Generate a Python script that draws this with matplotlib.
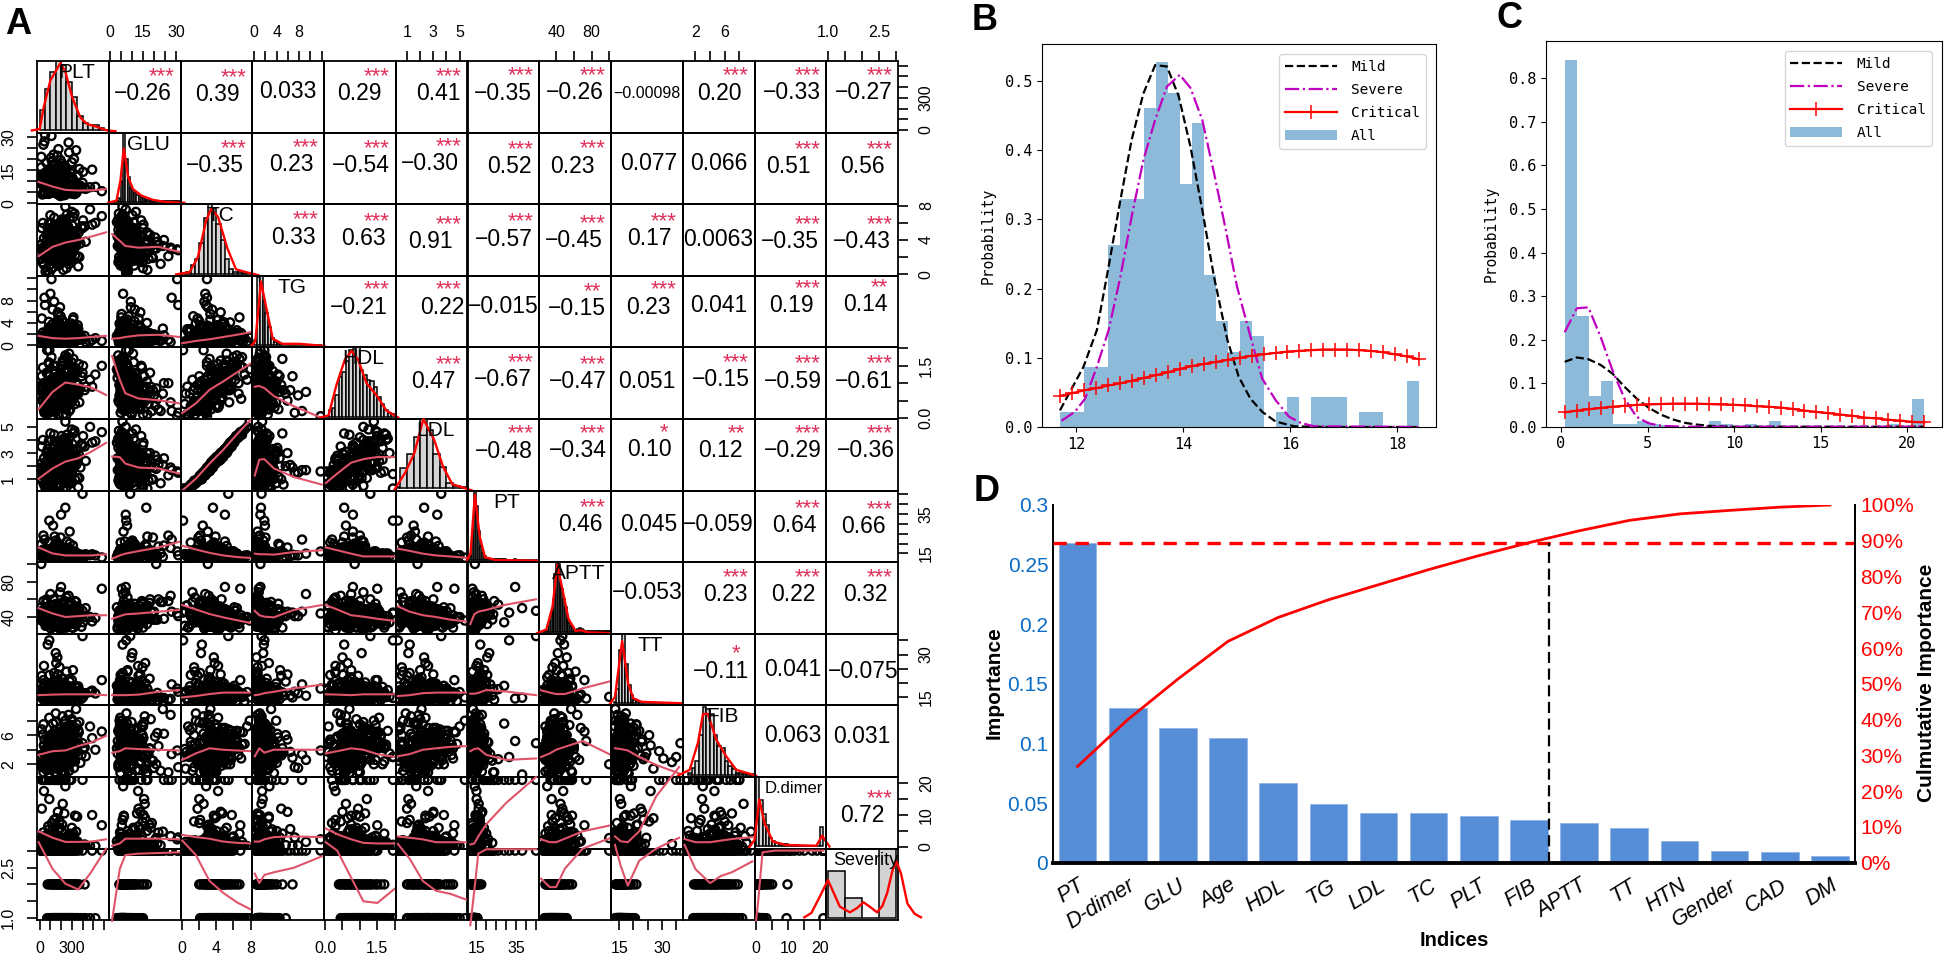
#%%
#Imports
import numpy as np
import matplotlib
matplotlib.use('Agg')
import matplotlib.pyplot as plt
from matplotlib.ticker import PercentFormatter

plt.rcParams['font.family'] = ['Liberation Sans', 'DejaVu Sans']

W, H = 1946, 959

# %%
#Panel A: patient table read off the blobs (mild 34, severe 14, critical 52)
plt_v = [182,245,310,128,205,390,265,150,220,340,175,298,120,255,430,190,235,160,365,280,210,145,320,470,195,250,135,300,225,520,170,275,350,240,
         160,280,210,350,130,240,190,420,300,110,260,175,330,225,
         60,140,95,210,30,175,250,85,120,310,45,190,155,70,280,105,20,230,130,360,90,165,50,200,115,300,75,145,35,260,185,100,400,65,220,125,15,170,80,340,150,55,240,110,580,195,40,135,270,90,490,160]
glu_v = [5.2,6.1,4.8,7.5,5.6,6.8,5.0,8.8,6.3,5.4,9.6,4.5,7.0,5.8,6.5,11.5,5.1,6.0,7.8,4.9,6.6,13.5,5.5,7.2,6.2,4.6,15.0,5.9,6.9,7.4,5.3,10.5,6.4,5.7,
         6.0,8.2,5.5,12.0,7.1,5.0,9.5,6.7,14.5,5.8,7.7,16.8,6.3,10.8,
         7.5,12.5,6.5,18.0,9.0,24.5,8.0,14.0,5.6,11.0,28.0,7.0,16.0,10.0,6.2,20.5,13.0,8.5,22.0,6.8,15.5,9.8,31.0,7.2,12.0,18.5,5.8,10.5,26.5,8.8,14.8,6.0,9.2,11.8,17.0,7.8,21.0,13.8,6.6,24.0,10.2,8.2,16.5,30.5,5.4,19.5,12.8,9.5,27.5,7.4,15.2,11.2]
tc_v = [4.2,5.1,3.6,4.8,3.2,5.6,4.5,3.9,6.2,4.0,5.3,3.4,4.7,7.0,3.8,4.4,5.8,3.1,4.9,6.6,4.1,3.5,5.0,7.6,4.3,3.7,5.4,2.9,4.6,6.0,3.3,5.2,4.0,7.9,
        3.5,4.4,2.8,5.1,3.9,4.7,3.0,5.6,3.3,4.2,2.6,4.9,3.7,6.1,
        2.4,3.6,1.9,3.1,2.7,4.0,1.5,3.3,2.2,4.6,2.9,1.2,3.8,2.5,3.0,4.3,1.8,2.6,3.4,0.9,2.0,3.7,2.8,5.0,1.6,3.2,2.3,4.1,2.1,3.5,1.4,2.7,5.4,3.9,0.5,2.4,3.0,4.5,1.7,3.3,2.2,0.3,3.6,2.9,6.8,1.9,4.2,2.6,3.1,0.1,5.8,2.0]
tg_v = [1.2,0.9,1.7,2.4,1.0,1.5,0.7,3.1,1.3,2.0,0.8,1.1,3.8,1.6,0.6,2.7,1.4,0.9,2.2,1.0,4.5,1.2,1.8,0.7,3.4,1.5,1.1,2.1,0.8,1.3,5.6,1.0,2.6,1.4,
        1.1,2.0,0.8,1.5,3.0,1.2,6.8,1.7,0.9,2.5,1.3,4.0,0.7,1.6,
        0.9,1.4,0.7,2.2,1.1,1.8,0.5,3.2,1.0,1.6,8.5,0.8,2.6,1.3,0.6,1.9,4.8,1.2,0.9,2.9,1.5,0.4,7.2,1.1,2.1,0.8,1.7,3.6,1.0,1.4,0.6,9.2,1.3,2.4,0.7,1.9,1.1,5.9,0.9,3.0,1.6,0.3,1.2,11.8,0.8,2.0,1.4,7.8,0.6,1.8,1.0,4.3]
hdl_v = [1.05,1.3,0.8,1.5,0.95,1.2,1.65,0.7,1.1,1.4,0.85,1.25,1.0,1.75,0.9,1.15,1.35,0.75,1.55,1.0,1.2,0.65,1.45,1.1,0.9,1.3,0.8,1.6,1.05,1.25,0.7,1.85,1.0,1.4,
         0.85,1.1,0.7,1.3,0.95,0.6,1.2,0.8,1.45,0.9,0.55,1.05,0.75,1.6,
         0.6,0.9,0.4,0.75,0.5,1.0,0.3,0.7,0.85,0.55,0.2,1.1,0.65,0.45,0.8,0.35,0.95,0.6,0.25,0.7,1.2,0.5,0.15,0.8,0.4,0.9,0.55,0.3,1.0,0.65,0.45,0.75,1.3,0.35,0.1,0.6,0.85,0.5,0.2,0.7,1.05,0.4,0.55,0.05,1.5,0.8,0.3,0.65,0.45,1.95,0.9,0.25]
ldl_v = [2.6,3.2,2.1,2.7,1.9,3.7,2.5,2.5,4.0,2.3,3.4,1.8,3.0,4.4,2.4,2.9,3.5,1.7,2.9,4.2,2.6,2.2,3.1,5.0,2.4,2.3,3.6,1.5,3.0,3.9,2.0,3.0,2.7,5.4,
         2.0,2.8,1.5,3.3,2.2,3.1,1.9,3.5,1.8,2.7,1.4,3.0,2.4,4.1,
         1.3,2.2,0.9,1.9,1.5,2.6,0.7,1.8,1.2,2.9,1.7,0.5,2.4,1.4,1.6,2.8,1.0,1.6,2.1,0.4,1.1,2.3,1.5,3.3,0.8,2.0,1.2,2.5,1.3,2.2,0.6,1.7,3.6,2.4,0.3,1.5,1.8,3.0,0.9,2.1,1.1,0.3,2.3,1.6,4.6,1.0,2.6,1.5,1.9,0.3,3.8,1.2]
pt_v = [13.2,13.8,14.1,13.5,12.8,14.4,13.9,13.1,14.0,13.6,12.6,14.2,13.7,13.3,14.6,13.0,13.4,14.3,12.9,13.8,14.8,13.5,12.7,14.1,13.2,13.9,14.5,13.6,12.5,14.0,13.3,13.7,15.0,12.9,
        13.6,14.2,13.0,14.8,13.9,12.7,14.4,13.4,15.2,13.7,12.9,14.1,16.0,13.3,
        14.0,15.5,13.5,16.8,14.6,19.0,13.2,15.0,17.5,14.2,22.0,13.8,15.8,14.4,26.0,13.6,16.2,14.8,18.5,13.4,15.2,20.5,14.1,34.5,15.6,13.9,17.0,14.5,24.0,13.1,16.5,14.9,45.0,15.3,13.7,29.0,14.3,18.0,15.9,13.3,21.5,14.7,38.0,16.0,13.0,23.0,15.1,14.0,17.8,31.5,14.6,19.8]
aptt_v = [36,40,33,44,38,29,42,35,47,31,39,43,34,37,50,30,41,36,45,32,38,48,35,40,28,43,37,33,46,39,41,34,52,36,
          38,43,34,48,37,30,45,40,55,35,42,32,58,39,
          41,48,36,56,43,38,62,44,33,50,46,68,39,42,54,37,47,28,60,44,35,52,41,74,45,38,49,25,58,43,36,66,47,40,53,34,100,46,39,57,42,30,50,44,72,37,48,41,64,45,35,55]
tt_v = [15.5,16.2,14.8,17.0,15.8,14.4,16.6,15.2,17.8,14.9,16.0,15.4,18.5,15.0,16.4,14.6,15.7,17.3,15.1,16.1,14.3,19.5,15.6,16.8,14.7,15.3,18.0,15.9,14.5,16.3,20.5,15.2,16.7,14.9,
        15.8,16.9,14.6,18.2,15.3,17.4,14.9,16.1,21.0,15.5,14.2,16.5,19.0,15.0,
        16.2,18.5,15.0,21.5,16.8,14.7,24.0,15.7,17.2,14.3,19.5,16.0,27.0,15.4,17.8,14.9,22.5,16.5,13.8,18.8,15.2,29.0,16.9,14.5,20.0,15.8,33.5,17.5,14.1,16.3,25.5,15.5,36.5,16.7,14.6,19.0,15.1,23.0,17.0,13.6,30.5,16.1,14.8,18.0,21.0,15.6,26.0,16.4,14.4,35.0,17.3,15.9]
fib_v = [3.8,5.2,2.9,4.4,6.1,3.3,4.9,2.5,5.6,3.6,4.1,6.8,2.7,4.7,3.1,5.4,3.9,2.2,6.4,4.3,3.4,5.0,2.6,7.2,3.7,4.6,3.0,5.8,2.3,4.0,6.0,3.5,4.8,8.0,
         3.4,4.8,2.6,5.7,3.9,6.5,2.9,4.3,7.4,3.2,5.1,2.2,4.6,6.0,
         3.6,5.0,2.4,4.2,1.8,6.2,3.0,4.7,2.1,5.5,3.4,7.0,1.4,4.0,2.7,5.8,3.2,1.0,4.5,6.7,2.9,3.8,1.6,5.2,3.5,8.2,2.3,4.4,0.9,3.1,6.0,2.6,4.9,1.2,3.7,7.6,2.0,5.4,3.3,9.6,2.8,4.1,0.6,3.9,6.5,2.5,4.6,1.5,8.8,3.0,5.6,3.7]
dd_v = [0.3,0.5,0.2,0.8,0.4,0.3,1.2,0.6,0.2,0.4,0.9,0.3,0.5,1.6,0.2,0.7,0.4,0.3,1.1,0.5,0.2,0.6,2.1,0.3,0.4,0.8,0.2,0.5,1.4,0.3,0.6,0.4,9.5,21,
        0.5,1.0,0.3,1.8,0.6,2.6,0.4,0.8,3.5,1.3,0.7,5.0,9.8,1.5,
        1.5,4.0,0.8,7.0,2.5,21,1.0,5.5,0.6,3.2,21,1.8,9.0,0.5,21,2.2,12.0,1.2,4.5,0.7,15.0,21,3.0,21,1.4,6.0,0.9,2.0,21,0.4,8.0,1.6,21,3.6,0.6,21,2.8,11.0,1.1,4.8,21,0.8,21,2.4,6.8,1.3,17.5,0.5,3.4,21,10.0,1.9]
sev_v = [1]*34 + [2]*14 + [3]*52

#Second batch that fills the dense core of each blob (mild 38, severe 14, critical 58)
plt_core = [85,130,165,200,240,275,310,345,100,145,185,225,260,300,335,70,115,155,195,235,270,305,355,90,135,175,215,250,290,325,380,110,150,190,230,265,295,405,
            75,120,160,205,245,285,330,95,140,180,220,255,315,370,
            10,40,70,100,130,160,190,220,250,280,25,55,85,115,145,175,205,235,265,295,15,45,75,105,135,165,195,225,255,285,35,65,95,125,155,185,215,245,275,310,20,50,80,110,140,170,200,230,260,320,30,60,90,120,150,180,210,240]
glu_core = [4.2,7.1,5.5,9.0,3.8,6.4,8.2,4.9,10.2,5.7,3.5,7.7,6.0,11.8,4.4,8.6,5.1,6.9,3.2,9.5,5.3,7.4,12.6,4.7,6.2,8.9,3.9,5.8,10.8,4.1,7.9,6.6,9.8,5.0,3.6,8.4,6.8,14.2,
            5.6,9.2,4.3,7.3,11.2,5.9,8.0,13.2,4.6,6.5,10.0,7.6,5.2,15.5,
            8.8,5.5,13.2,7.0,17.5,4.8,10.6,6.2,15.0,9.0,3.9,12.0,7.6,19.0,5.1,11.0,8.2,14.5,6.5,4.4,16.2,9.6,7.3,12.6,5.8,21.5,8.5,10.0,6.8,13.8,4.6,18.2,9.3,7.9,11.5,5.3,15.8,6.1,23.0,8.0,10.9,4.2,13.0,7.1,17.0,9.9,5.7,12.3,6.4,20.0,8.4,14.2,4.9,11.3,7.5,16.6,9.1,6.0]
tc_core = [5.9,2.7,4.6,3.5,6.4,2.3,5.0,3.9,6.9,2.9,4.4,5.6,3.2,7.3,4.0,2.5,5.3,3.7,6.1,4.8,3.0,5.7,2.1,4.2,6.6,3.4,5.2,2.8,4.7,7.1,3.6,6.0,2.6,4.9,3.3,5.5,4.1,6.3,
           5.4,2.5,4.1,6.4,3.1,5.0,2.2,3.8,5.8,2.9,4.6,3.4,6.7,2.0,
           3.4,1.1,2.6,4.4,1.8,3.0,5.2,2.2,0.7,3.7,1.4,2.8,4.8,2.0,3.2,1.0,4.0,2.4,5.6,1.6,3.5,2.9,0.4,4.2,2.1,3.8,1.3,2.7,5.0,1.7,3.1,4.6,2.3,0.8,3.6,1.9,2.5,4.3,1.2,3.3,5.4,2.0,2.9,0.6,3.9,1.5,2.6,4.7,1.8,3.0,6.0,2.2,1.0,3.5,1.6,2.4,4.1,2.8]
tg_core = [0.7,1.5,2.8,1.0,1.9,0.5,3.3,1.2,2.2,0.9,1.6,4.1,0.6,1.3,2.5,1.1,3.0,0.8,1.7,2.0,0.4,1.4,3.6,1.0,2.3,0.7,1.8,2.9,1.2,0.6,1.5,2.1,0.9,3.9,1.3,0.5,2.6,1.1,
           0.6,1.8,1.0,2.7,0.4,1.4,3.4,0.9,2.2,1.2,0.5,1.9,5.0,1.0,
           1.2,0.4,2.0,0.8,1.5,3.5,0.6,1.0,2.4,0.3,1.7,0.9,4.2,1.3,0.5,2.8,1.1,0.7,1.9,3.9,0.4,1.4,0.8,2.2,0.6,1.6,5.2,1.0,0.3,2.6,1.2,0.7,3.1,0.9,1.8,0.5,1.3,2.1,0.8,4.6,1.1,0.4,1.5,2.9,0.7,1.0,3.4,0.6,1.7,0.9,2.3,1.3,0.5,6.4,1.0,1.9,0.8,2.7]
hdl_core = [1.6,0.6,1.2,0.9,1.8,0.75,1.35,1.0,0.55,1.5,1.15,0.85,1.7,1.25,0.65,1.95,1.05,0.8,1.4,1.1,0.5,1.3,0.95,1.55,0.7,1.2,1.65,0.6,1.0,1.45,0.85,1.75,1.1,0.9,1.35,0.45,1.25,1.5,
            1.25,0.5,0.95,1.5,0.65,1.15,0.4,0.85,1.35,0.6,1.0,0.75,1.7,0.45,
            0.8,0.25,0.55,1.0,0.4,0.7,1.15,0.3,0.1,0.85,0.5,0.65,1.25,0.2,0.75,0.35,0.95,0.6,1.4,0.45,0.9,0.15,0.7,1.05,0.3,0.55,0.8,0.4,1.1,0.25,0.65,1.3,0.5,0.05,0.85,0.35,0.6,1.0,0.2,0.75,1.2,0.45,0.3,0.9,0.55,0.1,0.7,1.15,0.4,0.65,1.45,0.5,0.15,0.8,0.35,0.6,0.95,0.25]
ldl_core = [3.9,1.3,2.8,2.3,4.1,1.0,3.3,2.2,4.5,1.9,2.6,3.4,1.6,4.8,2.6,1.4,3.1,2.5,3.8,3.1,1.6,3.7,1.1,2.4,4.4,2.2,3.4,1.4,2.7,4.7,1.9,4.0,1.6,3.2,1.7,3.5,2.7,4.3,
            3.3,1.3,2.6,4.3,1.7,3.2,1.0,2.5,3.9,1.5,2.8,2.3,4.5,1.1,
            1.9,0.6,1.4,2.9,0.9,1.8,3.4,1.3,0.4,2.1,0.9,1.5,3.1,1.0,2.1,0.5,2.4,1.4,3.8,0.7,2.2,1.6,0.3,2.7,1.2,2.5,0.6,1.6,3.2,0.8,1.7,3.0,1.4,0.4,2.4,1.0,1.3,2.8,0.7,2.0,3.5,1.1,1.8,0.3,2.6,0.7,1.5,3.0,1.0,1.9,4.0,1.2,0.6,2.1,0.9,1.4,2.5,1.7]
pt_core = [13.0,14.3,12.4,13.7,15.0,12.9,14.6,13.4,12.2,14.1,13.6,15.3,12.7,13.9,14.4,13.2,12.5,14.8,13.5,15.6,12.8,14.0,13.3,14.7,12.3,13.8,15.1,13.1,14.2,12.6,13.6,14.9,12.1,14.5,13.0,15.4,13.7,14.0,
           14.5,13.2,15.4,12.6,14.0,16.5,13.5,15.0,12.3,14.7,13.8,17.5,13.0,14.3,
           13.8,15.2,12.9,17.2,14.4,13.1,18.8,15.6,14.0,20.0,13.4,16.4,14.8,12.7,15.9,13.6,17.8,14.2,16.0,13.0,19.5,15.0,14.6,12.5,16.8,13.7,15.4,14.1,21.0,13.3,17.0,14.9,15.7,12.8,18.2,14.3,16.2,13.5,15.1,19.0,14.7,13.2,16.6,14.0,23.5,15.5,13.9,17.5,14.5,12.6,16.1,15.3,20.5,13.6,14.8,18.5,15.8,14.2]
aptt_core = [32,38,45,29,41,35,49,33,42,37,27,46,31,40,36,44,30,39,51,34,43,28,38,47,33,41,35,30,45,37,42,32,48,36,29,40,44,34,
             33,41,36,50,29,44,38,53,31,46,35,42,28,48,
             37,44,31,52,40,35,47,42,28,55,38,33,49,45,30,41,36,58,43,34,51,39,46,27,54,37,42,32,48,40,35,60,44,29,50,38,45,33,57,41,36,47,31,53,43,39,27,49,35,46,40,56,32,44,38,51,42,30]
tt_core = [14.0,15.0,16.5,13.8,17.5,15.6,14.5,16.9,15.1,18.2,14.2,16.0,15.5,13.6,17.2,14.7,16.3,15.3,19.0,14.9,15.9,17.7,14.1,16.6,15.2,13.9,18.6,15.7,14.4,16.2,17.0,15.4,14.6,19.8,15.8,14.3,16.8,15.0,
           14.8,17.0,15.4,13.7,16.3,18.8,15.0,14.3,17.6,15.9,20.0,14.5,16.7,15.2,
           15.3,17.2,14.0,19.2,16.0,14.6,18.0,15.6,13.5,20.5,16.7,15.0,17.6,14.2,22.0,15.9,14.8,18.6,16.3,13.7,19.8,15.2,17.0,14.4,23.5,16.5,15.5,18.3,14.9,13.9,21.0,16.1,15.1,17.4,14.1,19.5,15.7,16.9,14.7,24.5,15.4,18.9,16.4,14.3,17.9,15.8,13.8,20.2,16.6,15.0,18.1,14.5,22.8,15.6,17.3,14.0,16.2,19.1]
fib_core = [4.5,2.1,5.9,3.2,6.6,1.9,4.0,7.5,2.8,5.3,3.5,6.2,2.4,4.8,7.0,3.0,5.6,1.7,4.2,6.9,3.7,2.6,5.0,8.4,3.3,4.6,2.0,5.8,3.9,6.4,2.2,4.4,7.8,3.1,5.2,2.7,6.0,4.1,
            4.0,6.2,2.0,5.3,3.0,7.0,2.4,4.7,6.6,3.6,1.8,5.6,4.2,7.8,
            2.8,4.6,1.2,6.0,3.4,0.8,5.2,2.2,7.2,4.0,1.6,3.1,5.7,2.5,6.6,3.8,1.0,4.9,2.0,8.0,3.3,5.4,1.4,4.3,2.7,6.3,3.6,0.7,5.0,2.3,7.5,4.1,1.8,3.0,5.9,2.6,8.6,4.5,1.1,3.5,6.8,2.1,5.5,3.2,0.9,4.8,2.9,7.0,3.9,1.5,6.1,2.4,5.1,3.7,9.0,1.9,4.4,3.0]
dd_core = [0.1,0.4,0.2,0.6,0.3,1.0,0.1,0.5,0.2,0.8,0.3,0.1,1.3,0.4,0.2,0.7,0.1,0.5,1.8,0.3,0.2,0.9,0.4,0.1,0.6,2.4,0.2,0.3,1.1,0.5,0.1,0.7,0.2,3.2,0.4,0.3,1.5,0.2,
           0.3,0.7,0.2,1.2,0.5,2.0,0.1,0.9,3.0,0.4,1.5,0.6,4.2,0.8,
           0.8,2.0,0.3,3.5,1.2,0.5,6.0,1.8,0.2,4.2,1.0,2.6,0.6,7.5,1.4,0.3,5.0,2.2,0.9,21,0.4,3.0,1.6,0.7,8.5,1.1,21,0.3,2.4,0.6,4.6,1.3,21,0.2,3.8,0.9,13.5,1.7,0.5,2.9,21,1.0,6.5,0.4,21,2.1,0.8,10.5,1.5,0.3,3.3,21,0.7,5.6,1.2,21,0.5,19.0]
sev_core = [1]*38 + [2]*14 + [3]*58

names = ['PLT', 'GLU', 'TC', 'TG', 'HDL', 'LDL', 'PT', 'APTT', 'TT', 'FIB', 'D.dimer', 'Severity']
table = [plt_v+plt_core, glu_v+glu_core, tc_v+tc_core, tg_v+tg_core, hdl_v+hdl_core, ldl_v+ldl_core,
         pt_v+pt_core, aptt_v+aptt_core, tt_v+tt_core, fib_v+fib_core, dd_v+dd_core, sev_v+sev_core]
limits = [(-25,645), (-0.5,32), (-0.2,8.2), (-0.35,12.4), (-0.03,2.03), (0.14,5.6),
          (10.6,46.6), (21,102), (12.1,37.3), (0.25,10.1), (-0.5,21.9), (0.94,3.06)]
ticks = [[0,100,200,300,400,500,600], [0,5,10,15,20,25,30], [0,2,4,6,8], [0,2,4,6,8,10,12], [0,0.5,1,1.5,2], [1,2,3,4,5],
         [15,20,25,30,35,40,45], [40,60,80,100], [15,20,25,30,35], [2,4,6,8], [0,5,10,15,20], [1,1.5,2,2.5,3]]
tick_text = [['0','','','300','','',''], ['0','','','15','','','30'], ['0','','4','','8'], ['0','','4','','8','',''], ['0.0','','','1.5',''], ['1','','3','','5'],
             ['15','','','','35','',''], ['40','','80',''], ['15','','','30',''], ['2','','6',''], ['0','','10','','20'], ['1.0','','','2.5','']]

#Smoother x positions for each column variable
knots = [[-10,120,240,360,480,620], [1,4.5,7,13,22,31.5], [0,1.6,3.2,4.8,6.4,8.1], [0.1,0.9,1.8,3.5,7,12],
         [0.02,0.35,0.75,1.1,1.5,2.0], [0.3,1.2,2.2,3.2,4.3,5.5], [12,14,16,20,30,45], [23,33,40,50,70,100],
         [13.5,15.5,18,22,28,36], [0.5,2,4,5.5,7,9.8], [0,0.5,2,6,13,21]]

#Smoother y readings, one list per row, one entry per column left of the diagonal
smooth_glu = [[9.6,7.5,6,5.7,5.8,6.3]]
smooth_tc = [[2.1,3.2,3.7,4.0,4.4,4.9], [4.7,3.9,3.3,3.1,3.2,2.6]]
smooth_tg = [[1.7,1.3,1.2,1.3,1.5,1.7], [1.2,1.3,1.5,1.8,1.9,1.5], [0.4,0.8,1.1,1.5,1.9,2.4]]
smooth_hdl = [[0.25,0.75,1.02,0.96,0.88,0.66], [1.78,1.1,0.71,0.56,0.51,0.42], [0.14,0.42,0.81,1.05,1.31,1.58], [0.9,0.92,0.86,0.63,0.34,0.0]]
smooth_ldl = [[1.05,1.83,2.35,2.6,3.1,3.78], [2.74,2.69,2.2,1.9,1.83,1.44], [0.14,1.05,2.2,3.25,4.43,5.6],
              [1.3,2.5,2.54,1.83,1.18,0.6], [0.71,1.44,2.27,2.54,2.7,2.7]]
smooth_pt = [[18,15,14,14,14,14.6], [12.4,14,14.9,16.2,18,20.9], [18.9,17,15.3,14,13.2,12.7],
             [14.9,14.6,14.6,14.4,15.7,16.6], [18,16.6,14.9,13.5,13.5,13.5], [17.4,16.3,14.9,14,13.5,12.8]]
smooth_aptt = [[50,44,40,41,42,42], [38,41,43,44,46,48], [53.5,48.5,43.4,39.6,36.4,33], [47,42,40.4,39.6,48,53.5],
               [53.5,48.5,42,40.4,38,35.6], [52,46,42,40,37,35], [32,43,46,48,54,60]]
smooth_tt = [[15.7,15.9,16,16,16,15.7], [15.7,15.7,15.7,15.9,16.9,17.5], [14.9,15.4,16.1,16.6,16.6,16.6], [15.7,15.9,16.4,16.9,18.1,19.4],
             [16,15.9,15.7,16,16,16], [15.4,15.7,16.4,16.6,16.6,16.6], [16.2,16.2,16.5,17.5,17,15.7], [17.4,16.6,16.1,16.1,18.1,20.5]]
smooth_fib = [[3.3,3.8,3.9,4.5,5,5.9], [3.6,3.8,4.2,4.1,4,3.9], [2.6,3.5,4.2,4,3.9,3.8], [3.1,4.2,3.6,4,4,4], [3.5,3.8,4.2,4,3.4,3],
              [3.1,3.4,4,4.2,4.4,4.5], [3.8,4.1,4.2,3.3,2.6,2.8], [3,3.5,4,4.4,5.2,3.4], [4.2,4.1,3.9,3,1.9,0.75]]
smooth_dd = [[4.9,2.9,1.6,1.6,1.7,2.4], [0.4,1.1,2.6,2.6,2.6,2.4], [3.8,3.1,2.6,1.7,1.3,1.1], [1.7,1.7,2.4,3.1,3.3,3.1], [5.8,4,2.4,1.3,1.1,1.1],
             [3.3,2.9,2.4,1.5,1.5,1.5], [0.8,1.1,3.3,7.1,13.8,21.9], [2.4,1.5,1.5,2.6,4.9,6.7], [3.3,1.8,1.5,4.9,15.9,25], [2.5,1.5,1.5,2,2.5,3.1]]
smooth_sev = [[3.25,2.46,2.02,1.85,2.36,3.06], [0.92,2.46,2.87,2.91,2.93,2.95], [3.3,2.87,2.1,1.75,1.47,1.25], [2.32,2.04,2.28,2.36,2.49,2.83],
              [3.25,3.0,2.2,1.5,1.45,1.87], [3.2,2.76,2.1,1.81,1.72,1.55], [0.79,1.81,2.91,3.04,3.04,3.04], [2.17,1.92,1.92,2.47,3.06,3.36],
              [3.17,2.55,1.96,2.7,3.06,3.38], [3.17,2.45,2.04,2.25,2.36,2.68], [0.94,1.34,2.95,3.0,3.0,3.0]]
smooth_rows = [[], smooth_glu, smooth_tc, smooth_tg, smooth_hdl, smooth_ldl, smooth_pt, smooth_aptt, smooth_tt, smooth_fib, smooth_dd, smooth_sev]

#Diagonal histograms: first edge, bin width, bar heights as share of the cell
hist_start = [0, 0, 0, 0, 0, 0, 11, 22, 13, 1, 0, 1]
hist_step = [50, 1, 0.5, 0.5, 0.1, 0.5, 1, 2, 1, 0.5, 1, 0.5]
hist_plt = [.28,.58,.82,.98,.92,.67,.47,.2,.1,.08,.08,.03,.01]
hist_glu = [0,0,0,.01,.05,.3,.97,.6,.35,.2,.17,.13,.1,.08,.07,.05,.03,.03,.03,.02,.02,.01,.01,.01,.01,.01,.01,.01,.01,.01,.01,.01]
hist_tc = [.01,.02,.12,.2,.43,.78,1.0,.92,.7,.47,.2,.06,.03,.02,.01,.005]
hist_tg = [.08,.95,1,.62,.45,.25,.1,.05,.03,.02,.01,.01,.01,.02,.01,.01,.02,.01,.005,.005,.005,.005,.005,.01]
hist_hdl = [.01,.1,.12,.3,.55,.62,.78,.93,.95,1,.66,.58,.52,.5,.42,.28,.18,.1,.06,.04]
hist_ldl = [.02,.28,.48,.72,1,.82,.48,.3,.08,.04,.02]
hist_pt = [0,.05,.4,1,.75,.4,.2,.1,.05,.03,.02,.02,.01,.02,.01,.01,.01,.01,.01,.005,.005,.005,.005,.01,.005,.005,.005,.005,.005,.005,.005,.005,.005,.005,.005]
hist_aptt = [0,0,.01,.03,.08,.15,.28,.45,.8,1,.95,.7,.6,.45,.35,.22,.12,.08,.05,.03,.02,.04,.05,.04,.02,.01,.005,.005,.005,.005,.005,.005,.005,.005,.005,.005,.005,.005,.005,.01]
hist_tt = [.02,.2,.75,1.0,.55,.25,.12,.05,.03,.02,.01,.01,.01,.005,.01,.005,.005,.01,.005,.005,.01,.005,.005,.01]
hist_fib = [.02,.1,.2,.55,.95,.92,.85,.55,.4,.38,.2,.12,.08,.03,.02,.02,.01,.01]
hist_dd = [1.0,.65,.45,.3,.12,.07,.05,.04,.03,.03,.02,.02,.02,.01,.01,.01,.01,.01,.01,.01,.27]
hist_sev = [.66,.28,0,.98]
hist_rows = [hist_plt, hist_glu, hist_tc, hist_tg, hist_hdl, hist_ldl, hist_pt, hist_aptt, hist_tt, hist_fib, hist_dd, hist_sev]

#Diagonal density curves
dens_x = [[-73,0,37,100,193,240,302,380,442,535,629,707],
          [-0.75,3,4.8,6.3,8.3,10.5,14.3,19.5,25.5,33.8],
          [-0.7,0.86,1.83,2.8,3.4,4.2,5.3,6.3,7.5,8.9],
          [-0.6,0.2,1.2,2.1,3.3,5,8,12.5],
          [-0.14,0.1,0.33,0.57,0.76,0.95,1.19,1.48,1.76,2.1],
          [0.03,0.86,1.55,2.24,3.06,3.75,4.44,5.96],
          [10.3,12.1,14.3,16.7,19.4,24.8,46],
          [18.8,29,36,41.4,48,54,62,68.5,76,101],
          [11.7,13.5,16,18.1,19.9,22.8,36.8],
          [-0.4,1.2,2.34,3.03,3.7,4.86,6.2,7.6,10.3],
          [-2.1,-0.5,1,2.6,5.2,9.4,18.8,20.6,22.9],
          [0.29,0.5,0.75,0.99,1.2,1.34,1.64,1.85,2.04,2.25,2.44,2.6,2.74,2.9,3.01,3.15,3.34,3.55,3.74]]
dens_y = [[.03,.05,.35,.73,.97,.85,.5,.21,.12,.08,.03,.02],
          [.02,.05,.33,.78,.38,.21,.12,.06,.03,.02],
          [.02,.05,.26,.77,.94,.82,.38,.09,.05,.01],
          [.01,.09,.92,.57,.12,.05,.05,.02],
          [.02,.05,.48,.83,.95,.83,.5,.33,.12,.02],
          [.01,.25,.52,1,.71,.33,.09,.0],
          [.03,.12,.94,.36,.07,.03,.02],
          [.01,.06,.38,.96,.57,.21,.04,.05,.02,.01],
          [.02,.12,.9,.31,.1,.05,.03],
          [.02,.1,.48,.88,.88,.52,.29,.1,.02],
          [.02,.12,.69,.36,.1,.05,.04,.18,.03],
          [.04,.1,.33,.56,.34,.19,.11,.17,.25,.18,.11,.2,.38,.7,.82,.65,.23,.09,.04]]

#Upper triangle: correlation text, stars and where each one sits in its cell
r_text = [['−0.26','0.39','0.033','0.29','0.41','−0.35','−0.26','−0.00098','0.20','−0.33','−0.27'],
          ['−0.35','0.23','−0.54','−0.30','0.52','0.23','0.077','0.066','0.51','0.56'],
          ['0.33','0.63','0.91','−0.57','−0.45','0.17','0.0063','−0.35','−0.43'],
          ['−0.21','0.22','−0.015','−0.15','0.23','0.041','0.19','0.14'],
          ['0.47','−0.67','−0.47','0.051','−0.15','−0.59','−0.61'],
          ['−0.48','−0.34','0.10','0.12','−0.29','−0.36'],
          ['0.46','0.045','−0.059','0.64','0.66'],
          ['−0.053','0.23','0.22','0.32'],
          ['−0.11','0.041','−0.075'],
          ['0.063','0.031'],
          ['0.72']]
r_stars = [['***','***','','***','***','***','***','','***','***','***'],
           ['***','***','***','***','***','***','','','***','***'],
           ['***','***','***','***','***','***','','***','***'],
           ['***','***','','**','***','','***','**'],
           ['***','***','***','','***','***','***'],
           ['***','***','*','**','***','***'],
           ['***','','','***','***'],
           ['','***','***','***'],
           ['*','',''],
           ['',''],
           ['***']]
r_x = [[.47,.51,.5,.49,.59,.49,.49,.5,.51,.52,.52],
       [.48,.54,.52,.47,.58,.46,.52,.5,.47,.5],
       [.57,.55,.48,.5,.48,.53,.5,.5,.49],
       [.49,.65,.5,.53,.52,.5,.52,.55],
       [.53,.49,.53,.5,.53,.53,.52],
       [.51,.54,.54,.52,.54,.55],
       [.57,.53,.49,.55,.52],
       [.5,.6,.54,.55],
       [.54,.53,.51],
       [.53,.5],
       [.5]]
r_y = [[.54,.53,.58,.54,.54,.55,.56,.55,.55,.56,.56],
       [.54,.55,.54,.565,.52,.53,.57,.57,.52,.52],
       [.54,.52,.48,.51,.49,.52,.5,.48,.48],
       [.56,.56,.57,.54,.56,.58,.58,.6],
       [.52,.55,.52,.52,.55,.53,.53],
       [.55,.56,.57,.56,.56,.56],
       [.52,.52,.52,.51,.5],
       [.57,.55,.55,.55],
       [.48,.5,.47],
       [.58,.56],
       [.46]]

# %%
#Panel B values
b_edges_start, b_edges_stop = 11.71, 18.41
b_hist = [.021,.021,.087,.087,.263,.329,.329,.461,.527,.482,.351,.439,.22,.153,.109,.153,.131,0,.021,.044,0,.044,.044,.044,0,.021,.021,0,0,.066]
b_mild_x = [11.7,12.14,12.39,12.61,12.83,13.04,13.26,13.48,13.7,13.92,14.14,14.36,14.58,14.83,15.04,15.26,15.48,15.73,16.08,16.7,18.42]
b_mild_y = [.024,.087,.14,.232,.328,.415,.482,.523,.521,.478,.405,.314,.217,.126,.073,.041,.022,.008,.001,0,0]
b_severe_x = [11.73,11.98,12.17,12.39,12.61,12.83,13.04,13.26,13.48,13.7,13.94,14.14,14.36,14.58,14.8,15.01,15.26,15.48,15.73,15.98,16.2,16.45,18.42]
b_severe_y = [.009,.022,.041,.087,.14,.217,.304,.386,.444,.492,.509,.49,.444,.367,.285,.203,.131,.07,.039,.015,.006,.001,0]
b_critical_y = [.045,.049,.053,.056,.060,.063,.067,.071,.075,.079,.084,.088,.091,.094,.097,.100,.103,.105,.107,.109,.110,.111,.112,.112,.112,.111,.110,.108,.105,.102,.098]

#Panel C values
c_edges_start, c_edges_stop = 0.21, 21.0
c_hist = [.842,.254,.07,.106,.007,.007,.014,.007,.0035,0,0,0,.014,.007,0,.007,0,.014,0,0,0,0,0,0,0,0,0,.007,0,.064]
c_mild_x = [.21,.91,1.58,2.28,2.97,3.66,4.36,5.05,5.75,6.44,7.14,7.83,8.52,9.9,20.98]
c_mild_y = [.149,.159,.155,.142,.122,.092,.065,.044,.028,.017,.009,.005,.002,0,0]
c_severe_x = [.21,.91,1.58,2.28,2.97,3.66,4.36,5.05,5.75,7.14,20.98]
c_severe_y = [.217,.272,.274,.207,.13,.065,.023,.008,.002,0,0]
c_critical_y = [.033,.037,.04,.043,.046,.048,.05,.051,.052,.053,.053,.053,.052,.051,.0505,.049,.047,.046,.044,.041,.037,.034,.031,.028,.025,.021,.019,.016,.014,.011,.01]

#Panel D values
indices = ['PT','D-dimer','GLU','Age','HDL','TG','LDL','TC','PLT','FIB','APTT','TT','HTN','Gender','CAD','DM']
importance = [.268,.130,.113,.105,.0665,.049,.042,.042,.039,.036,.033,.029,.018,.0098,.009,.006]

# %%
#Helpers working in reference pixels
fig = plt.figure(figsize=(W/100, H/100), dpi=100)

def ax_px(l, t, r, b):
    return fig.add_axes([l/W, 1-b/H, (r-l)/W, (b-t)/H])

def text_px(x, y, s, **kw):
    fig.text(x/W, 1-y/H, s, **kw)

# %%
#Panel A
x0, y0, cell_w, cell_h = 37, 61, 71.75, 71.6
n = len(names)
for i in range(n):
    for j in range(n):
        ax = ax_px(x0+j*cell_w, y0+i*cell_h, x0+(j+1)*cell_w, y0+(i+1)*cell_h)
        ax.patch.set_alpha(0)
        for s in ax.spines.values():
            s.set_linewidth(1.3)
        ax.set_xticks([])
        ax.set_yticks([])
        if i == j:
            ax.set_xlim(limits[j])
            ax.set_ylim(0, 1)
            h = np.array(hist_rows[j])
            edges = hist_start[j] + hist_step[j]*np.arange(len(h))
            ax.bar(edges, h, width=hist_step[j], bottom=0.03, align='edge', color='#d3d3d3', edgecolor='black', linewidth=1.1, clip_on=True)
            ax.plot(dens_x[j], dens_y[j], color='#ff0000', lw=1.7, clip_on=False, zorder=5)
            fs = {10: 12, 11: 13}.get(j, 15)
            ax.text(0.55, 0.84, names[j], transform=ax.transAxes, ha='center', va='center', fontsize=fs, zorder=6)
        elif i > j:
            ax.set_xlim(limits[j])
            ax.set_ylim(limits[i])
            ax.scatter(table[j], table[i], s=34, facecolors='none', edgecolors='black', linewidths=1.7)
            ax.plot(knots[j], smooth_rows[i][j], color='#df536b', lw=1.5, clip_on=False, zorder=5)
        else:
            k = j-i-1
            ax.text(r_x[i][k], r_y[i][k], r_text[i][k], transform=ax.transAxes, ha='center', va='center',
                    fontsize=11.5 if r_text[i][k] == '−0.00098' else 16.5)
            if r_stars[i][k]:
                ax.text(0.74, r_y[i][k]+0.24, r_stars[i][k], transform=ax.transAxes, ha='center', va='center',
                        fontsize=16, color='#e0305a')
        if i == 0 and j % 2 == 1:
            ax.xaxis.tick_top()
            ax.set_xlim(limits[j])
            ax.set_xticks(ticks[j], tick_text[j], fontsize=11.5)
            ax.tick_params(axis='x', length=7, width=1.2, pad=8)
        if i == n-1 and j % 2 == 0:
            ax.set_xlim(limits[j])
            ax.set_xticks(ticks[j], tick_text[j], fontsize=11.5)
            ax.tick_params(axis='x', length=7, width=1.2, pad=8)
        if j == 0 and i % 2 == 1:
            ax.set_ylim(limits[i])
            ax.set_yticks(ticks[i], tick_text[i], fontsize=11.5, rotation=90, va='center')
            ax.tick_params(axis='y', length=7, width=1.2, pad=8)
        if j == n-1 and i % 2 == 0:
            ax.yaxis.tick_right()
            ax.set_ylim(limits[i])
            ax.set_yticks(ticks[i], tick_text[i], fontsize=11.5, rotation=90, va='center')
            ax.tick_params(axis='y', length=7, width=1.2, pad=8)

# %%
#Panels B and C
mono = 'DejaVu Sans Mono'

def hist_panel(box, xlim, ylim, xt, yt, start, stop, heights, mx, my, sx, sy, cy, ylabel_x):
    ax = ax_px(*box)
    edges = np.linspace(start, stop, len(heights)+1)
    ax.bar(edges[:-1], heights, width=edges[1]-edges[0], align='edge', color='#1f77b4', alpha=0.5, label='All')
    ax.plot(mx, my, 'k--', lw=1.6, label='Mild')
    ax.plot(sx, sy, 'm-.', lw=1.6, label='Severe')
    ax.plot(edges, cy, 'r-+', lw=1.6, ms=10, mew=1.1, label='Critical')
    ax.set_xlim(xlim)
    ax.set_ylim(ylim)
    ax.set_xticks(xt)
    ax.set_yticks(yt)
    ax.tick_params(labelsize=11)
    for t in ax.get_xticklabels() + ax.get_yticklabels():
        t.set_fontfamily(mono)
    ax.legend(loc='upper right', handlelength=3.6, handletextpad=1.0,
              labelspacing=0.62, borderaxespad=0.7, prop={'family': mono, 'size': 10.4})
    text_px(ylabel_x, (box[1]+box[3])/2, 'Probability', rotation=90, family=mono, fontsize=10.5, ha='center', va='center')

hist_panel((1042.3, 44, 1436, 427), (11.37, 18.73), (0, 0.5535), [12, 14, 16, 18], [0, .1, .2, .3, .4, .5],
           b_edges_start, b_edges_stop, b_hist, b_mild_x, b_mild_y, b_severe_x, b_severe_y, b_critical_y, 988)
hist_panel((1546, 41.3, 1941.7, 426.7), (-0.87, 22), (0, 0.885), [0, 5, 10, 15, 20], [0, .1, .2, .3, .4, .5, .6, .7, .8],
           c_edges_start, c_edges_stop, c_hist, c_mild_x, c_mild_y, c_severe_x, c_severe_y, c_critical_y, 1491)

# %%
#Panel D
ax = ax_px(1052.5, 505, 1855, 862.7)
xpos = np.arange(len(indices))
ax.bar(xpos, importance, width=0.75, color='#558dd6', edgecolor='#8fb4e6', linewidth=0.6)
ax.set_xlim(-0.5, 15.5)
ax.set_ylim(0, 0.3)
ax.set_yticks([0, .05, .1, .15, .2, .25, .3], ['0', '0.05', '0.1', '0.15', '0.2', '0.25', '0.3'], color='#0a6cc4', fontsize=15)
ax.set_xticks(xpos, indices, rotation=32, ha='right', rotation_mode='anchor', style='italic', fontsize=15.5)
ax.tick_params(axis='y', length=0, pad=3)
ax.tick_params(axis='x', length=0, pad=9)
ax.spines['top'].set_visible(False)
ax.spines['left'].set_linewidth(1.4)
ax.spines['right'].set_linewidth(1.4)
ax.spines['bottom'].set_linewidth(2.8)

cum = np.cumsum(importance) / np.sum(importance)
ax2 = ax.twinx()
ax2.plot(xpos, cum, color='#ff0000', lw=2)
ax2.axhline(0.895, color='#ff0000', lw=2.4, dashes=(4, 2.6))
ax2.plot([9.4, 9.4], [0, 0.895], color='black', lw=1.6, dashes=(5, 2.5))
ax2.set_ylim(0, 1)
ax2.yaxis.set_major_formatter(PercentFormatter(1, decimals=0))
ax2.set_yticks(np.arange(0, 1.01, 0.1))
ax2.tick_params(axis='y', length=0, pad=4, labelcolor='#ff0000', labelsize=15)
ax2.spines['top'].set_visible(False)
ax2.spines['left'].set_visible(False)
ax2.spines['bottom'].set_visible(False)
ax2.spines['right'].set_linewidth(1.4)

text_px(994, 683, 'Importance', rotation=90, fontweight='bold', fontsize=15, ha='center', va='center')
text_px(1927, 683, 'Culmutative Importance', rotation=90, fontweight='bold', fontsize=15, ha='center', va='center')
text_px(1454, 940, 'Indices', fontweight='bold', fontsize=14.5, ha='center', va='center')

# %%
#Panel letters
for x, y, s in [(18, 24, 'A'), (985, 20, 'B'), (1509, 18, 'C'), (987, 491, 'D')]:
    text_px(x, y, s, fontweight='bold', fontsize=26, ha='center', va='center')

fig.savefig('out.png', dpi=100)
